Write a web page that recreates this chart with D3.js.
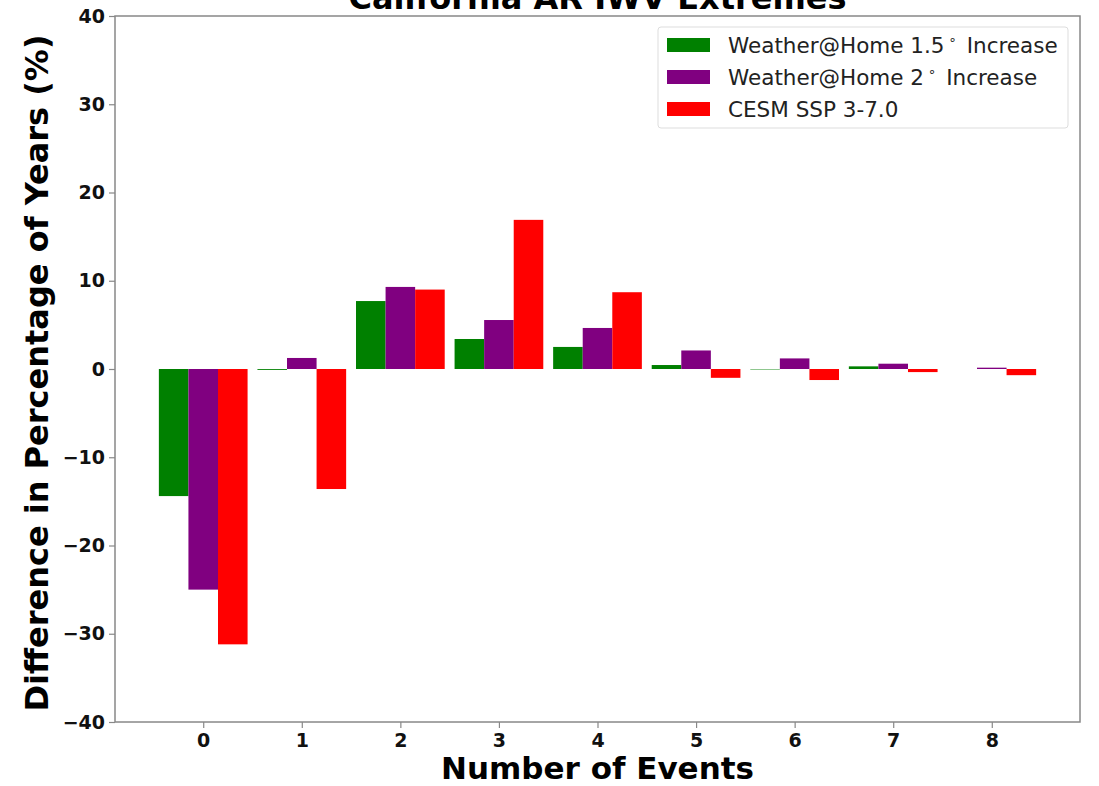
<!DOCTYPE html>
<html lang="en">
<head>
    <meta charset="UTF-8">
    <title>California AR IWV Extremes</title>
    <script src="https://d3js.org/d3.v7.min.js"></script>
    <style type="text/css">
        body { margin: 0; background: #fff; }
        text { font-family: "DejaVu Sans", sans-serif; }
        .tick text { font-weight: bold; font-size: 19px; fill: #111; }
    </style>
</head>
<body>
    <div id="chartArea"></div>
    <script type="text/javascript">
        var categories = [0, 1, 2, 3, 4, 5, 6, 7, 8];
        var seriesNames = ['Weather@Home 1.5', 'Weather@Home 2', 'CESM SSP 3-7.0'];
        var seriesColors = ['#008000', '#800080', '#ff0000'];
        var wah15 = [-14.4, -0.1, 7.7, 3.4, 2.5, 0.45, -0.05, 0.3, 0];
        var wah20 = [-25.0, 1.25, 9.3, 5.55, 4.65, 2.1, 1.2, 0.6, 0.15];
        var cesm = [-31.2, -13.6, 9.0, 16.9, 8.7, -1.0, -1.25, -0.35, -0.7];
        var yTicks = [-40, -30, -20, -10, 0, 10, 20, 30, 40];

        var series = [wah15, wah20, cesm];
        var w = 1099, h = 786;
        var mLeft = 115, mRight = 1080, mTop = 16, mBottom = 722;
        var barW = 0.3;

        var svg = d3.select('#chartArea').append('svg')
            .attr('width', w)
            .attr('height', h);

        var xScale = d3.scaleLinear()
            .domain([-0.895, 8.895])
            .range([mLeft, mRight]);

        var yScale = d3.scaleLinear()
            .domain([-40, 40])
            .range([mBottom, mTop]);

        // bars
        series.forEach(function (vals, s) {
            svg.append('g').selectAll('rect')
                .data(vals)
                .enter()
                .append('rect')
                .attr('x', function (d, i) {
                    return xScale(categories[i] + (s - 1) * barW - barW / 2);
                })
                .attr('width', xScale(barW) - xScale(0))
                .attr('y', function (d) { return yScale(Math.max(d, 0)); })
                .attr('height', function (d) { return Math.abs(yScale(d) - yScale(0)); })
                .attr('fill', seriesColors[s]);
        });

        // axes
        var xAxis = svg.append('g')
            .attr('transform', 'translate(0,' + mBottom + ')')
            .call(d3.axisBottom(xScale).tickValues(categories).tickSize(6).tickPadding(6));
        var yAxis = svg.append('g')
            .attr('transform', 'translate(' + mLeft + ',0)')
            .call(d3.axisLeft(yScale).tickValues(yTicks).tickSize(6).tickPadding(4)
                .tickFormat(function (d) { return d < 0 ? '\u2212' + Math.abs(d) : d; }));
        [xAxis, yAxis].forEach(function (a) {
            a.select('.domain').remove();
            a.selectAll('.tick line').attr('stroke', '#888').attr('stroke-width', 1.2);
        });

        // frame
        svg.append('rect')
            .attr('x', mLeft).attr('y', mTop)
            .attr('width', mRight - mLeft).attr('height', mBottom - mTop)
            .attr('fill', 'none')
            .attr('stroke', '#888')
            .attr('stroke-width', 1.5);

        // title (clipped at top like reference)
        svg.append('text')
            .attr('x', (mLeft + mRight) / 2)
            .attr('y', 9)
            .attr('text-anchor', 'middle')
            .attr('font-weight', 'bold')
            .attr('font-size', 32)
            .text('California AR IWV Extremes');

        svg.append('text')
            .attr('x', (mLeft + mRight) / 2)
            .attr('y', 779)
            .attr('text-anchor', 'middle')
            .attr('font-weight', 'bold')
            .attr('font-size', 31)
            .text('Number of Events');

        svg.append('text')
            .attr('transform', 'translate(48,' + ((mTop + mBottom) / 2 + 4) + ') rotate(-90)')
            .attr('text-anchor', 'middle')
            .attr('font-weight', 'bold')
            .attr('font-size', 32)
            .text('Difference in Percentage of Years (%)');

        // legend
        var lg = svg.append('g').attr('transform', 'translate(658,27)');
        lg.append('rect')
            .attr('width', 410).attr('height', 101)
            .attr('rx', 3)
            .attr('fill', '#fff')
            .attr('stroke', '#ddd');
        seriesNames.forEach(function (name, i) {
            var row = lg.append('g').attr('transform', 'translate(0,' + (18 + i * 32) + ')');
            row.append('rect')
                .attr('x', 9).attr('y', -7)
                .attr('width', 43).attr('height', 14)
                .attr('fill', seriesColors[i]);
            var t = row.append('text')
                .attr('x', 70).attr('y', 8)
                .attr('font-size', 21.5)
                .attr('fill', '#222')
                .text(name);
            if (i < 2) {
                t.append('tspan').attr('font-size', 13).attr('dy', -9).attr('dx', 4).text('\u2218');
                t.append('tspan').attr('dy', 9).attr('dx', 10).text('Increase');
            }
        });
    </script>
</body>
</html>
